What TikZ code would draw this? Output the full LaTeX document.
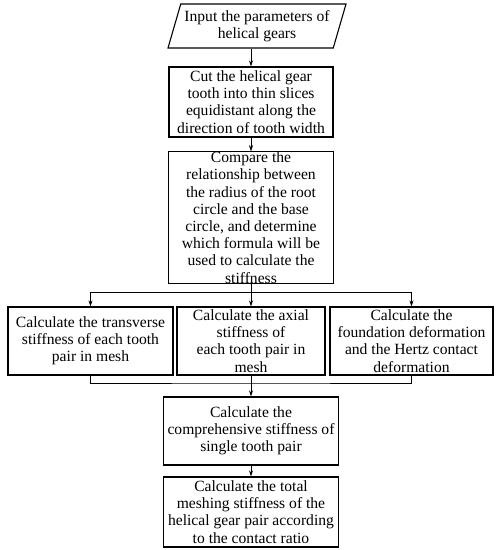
\documentclass[tikz,border=0pt]{standalone}
\usepackage{fontspec}
\setmainfont{Liberation Serif}
\usetikzlibrary{calc,positioning,arrows.meta,shapes.geometric}
\tikzset{
  stepbox/.style={
    draw,
    line width=1.1pt,
    rectangle,
    align=center,
    inner xsep=0pt,
    inner ysep=0pt,
    font=\fontsize{15.6}{17.2}\selectfont
  },
  databox/.style={
    stepbox,
    trapezium,
    trapezium left angle=68,
    trapezium right angle=112,
    trapezium stretches body
  },
  flow/.style={line width=0.7pt},
  flowarrow/.style={flow,-{Stealth[length=6pt,width=4pt]}}
}
\begin{document}
\begin{tikzpicture}[x=1pt,y=-1pt]
  \useasboundingbox (0,0) rectangle (499,550);

  \node (input) [databox,minimum width=178pt,minimum height=44pt] at(257,26) {Input the parameters of\\helical gears};

  \node (slices) [stepbox,minimum width=164pt,minimum height=70pt] at(251,102) {Cut the helical gear\\tooth into thin slices\\equidistant along the\\direction of tooth width};

  \node (compare) [stepbox,minimum width=165pt,minimum height=131pt] at(251,217.5) {Compare the\\relationship between\\the radius of the root\\circle and the base\\circle, and determine\\which formula will be\\used to calculate the\\stiffness};

  % three parallel stiffness parts
  \node (transverse) [stepbox,minimum width=165pt,minimum height=68pt] at(90.5,341) {Calculate the transverse\\stiffness of each tooth\\pair in mesh};
  \node (axial) [stepbox,minimum width=148pt,minimum height=68pt] at(251,341) {Calculate the axial\\stiffness of\\each tooth pair in\\mesh};
  \node (foundation) [stepbox,minimum width=163pt,minimum height=68pt] at(411.5,341) {Calculate the\\foundation deformation\\and the Hertz contact\\deformation};

  \node (comprehensive) [stepbox,minimum width=175pt,minimum height=68pt] at(251,431) {Calculate the\\comprehensive stiffness of\\single tooth pair};

  \node (total) [stepbox,minimum width=175pt,minimum height=70pt] at(251,512) {Calculate the total\\meshing stiffness of the\\helical gear pair according\\to the contact ratio};

  \coordinate (split) at(251,292);
  \coordinate (merge) at(251,383);

  \draw[flowarrow] (input.south -| slices.north) -- (slices.north);
  \draw[flowarrow] (slices.south) -- (compare.north);

  \draw[flow] (compare.south) -- (split);
  \draw[flowarrow] (split) -| (transverse.north);
  \draw[flowarrow] (split) -- (axial.north);
  \draw[flowarrow] (split) -| (foundation.north);

  \draw[flow] (transverse.south) |- (merge) -| (foundation.south);
  \draw[flow] (axial.south) -- (merge);
  \draw[flowarrow] (merge) -- (comprehensive.north);

  \draw[flowarrow] (comprehensive.south) -- (total.north);
\end{tikzpicture}
\end{document}
